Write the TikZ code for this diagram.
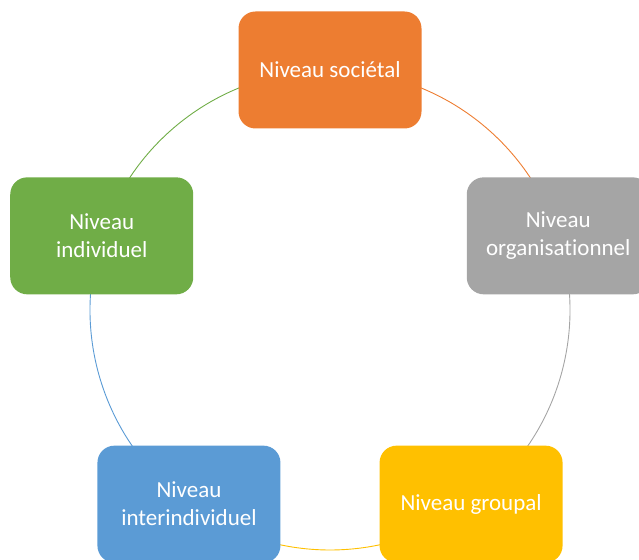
\documentclass[tikz,border=0pt]{standalone}
\usepackage{fontspec}
\setmainfont[Ligatures=NoCommon]{Carlito}
\definecolor{cOrange}{HTML}{ED7D31}
\definecolor{cGray}{HTML}{A5A5A5}
\definecolor{cGold}{HTML}{FFC000}
\definecolor{cBlue}{HTML}{5B9BD5}
\definecolor{cGreen}{HTML}{70AD47}
\tikzset{
  levelbox/.style={rectangle, rounded corners=17pt, minimum width=183pt, minimum height=117pt,
    inner sep=0pt, text=white, align=center, font=\fontsize{23}{28}\selectfont},
  ring/.style={line width=0.9pt}
}
\begin{document}
\begin{tikzpicture}[x=1pt,y=1pt]
\useasboundingbox (0,0) rectangle (639,559);
\clip (0,0) rectangle (639,559);
\coordinate (c) at (330,249);
% nodes (placed on circle)
\path node[levelbox] (soc) at ([shift={(90:240)}]c) {}
      node[levelbox] (org) at ([shift={(18:240)}]c) {}
      node[levelbox] (grp) at ([shift={(-54:240)}]c) {}
      node[levelbox] (inter) at ([shift={(-126:240)}]c) {}
      node[levelbox] (ind) at ([shift={(162:240)}]c) {};
% connectors
\draw[ring, cOrange] (soc.center) arc[start angle=90, end angle=18, radius=240];
\draw[ring, cGray] (org.center) arc[start angle=18, end angle=-54, radius=240];
\draw[ring, cGold] (grp.center) arc[start angle=-54, end angle=-126, radius=240];
\draw[ring, cBlue] (inter.center) arc[start angle=-126, end angle=-198, radius=240];
\draw[ring, cGreen] (ind.center) arc[start angle=162, end angle=90, radius=240];
% boxes on top
\node[levelbox, fill=cOrange] at (soc) {Niveau sociétal};
\node[levelbox, fill=cGray] at (org) {Niveau\\organisationnel};
\node[levelbox, fill=cGold] at (grp) {Niveau groupal};
\node[levelbox, fill=cBlue] at (inter) {Niveau\\interindividuel};
\node[levelbox, fill=cGreen] at (ind) {Niveau\\individuel};
\end{tikzpicture}
\end{document}
